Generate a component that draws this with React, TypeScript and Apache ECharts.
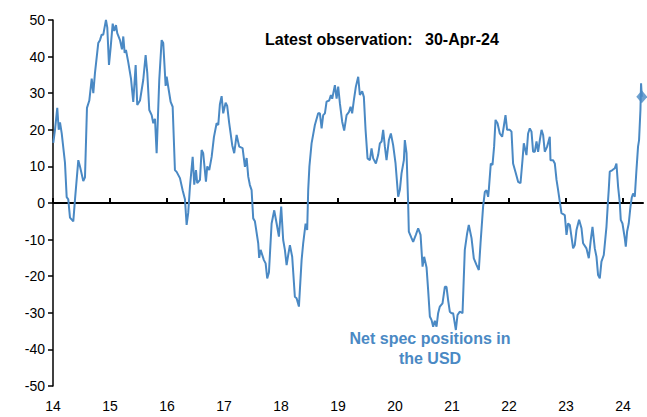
import React, { useEffect, useRef } from "react";
import * as echarts from "echarts";

const dates = [
  2014.005, 2014.035, 2014.075, 2014.1, 2014.123, 2014.153, 2014.21, 2014.24, 2014.268, 2014.298,
  2014.356, 2014.386, 2014.444, 2014.473, 2014.531, 2014.561, 2014.596, 2014.637, 2014.679, 2014.707,
  2014.736, 2014.794, 2014.824, 2014.854, 2014.882, 2014.929, 2014.952, 2014.982, 2015.012, 2015.047,
  2015.075, 2015.105, 2015.127, 2015.175, 2015.21, 2015.233, 2015.257, 2015.28, 2015.32, 2015.368,
  2015.408, 2015.45, 2015.478, 2015.526, 2015.583, 2015.625, 2015.654, 2015.689, 2015.731, 2015.759,
  2015.789, 2015.818, 2015.864, 2015.906, 2015.934, 2015.976, 2015.994, 2016.022, 2016.064, 2016.099,
  2016.139, 2016.169, 2016.227, 2016.274, 2016.315, 2016.344, 2016.372, 2016.402, 2016.45, 2016.478,
  2016.508, 2016.53, 2016.578, 2016.607, 2016.635, 2016.683, 2016.706, 2016.741, 2016.783, 2016.823,
  2016.87, 2016.899, 2016.928, 2016.958, 2016.986, 2017.028, 2017.056, 2017.091, 2017.144, 2017.179,
  2017.221, 2017.267, 2017.326, 2017.367, 2017.397, 2017.425, 2017.454, 2017.484, 2017.512, 2017.542,
  2017.6, 2017.617, 2017.642, 2017.7, 2017.73, 2017.758, 2017.788, 2017.835, 2017.881, 2017.923,
  2017.963, 2018.003, 2018.038, 2018.068, 2018.098, 2018.126, 2018.156, 2018.196, 2018.243, 2018.273,
  2018.314, 2018.361, 2018.389, 2018.431, 2018.459, 2018.477, 2018.498, 2018.536, 2018.594, 2018.652,
  2018.682, 2018.712, 2018.74, 2018.77, 2018.799, 2018.845, 2018.875, 2018.898, 2018.945, 2018.975,
  2019.003, 2019.033, 2019.073, 2019.108, 2019.15, 2019.19, 2019.22, 2019.248, 2019.278, 2019.313,
  2019.354, 2019.383, 2019.424, 2019.453, 2019.483, 2019.518, 2019.559, 2019.588, 2019.617, 2019.664,
  2019.704, 2019.734, 2019.764, 2019.792, 2019.822, 2019.851, 2019.892, 2019.927, 2019.967, 2020.009,
  2020.055, 2020.085, 2020.114, 2020.155, 2020.172, 2020.202, 2020.23, 2020.242, 2020.29, 2020.318,
  2020.365, 2020.406, 2020.448, 2020.483, 2020.511, 2020.553, 2020.581, 2020.611, 2020.641, 2020.669,
  2020.698, 2020.728, 2020.756, 2020.786, 2020.833, 2020.874, 2020.903, 2020.931, 2020.961, 2020.991,
  2021.019, 2021.067, 2021.096, 2021.137, 2021.184, 2021.224, 2021.265, 2021.294, 2021.342, 2021.382,
  2021.429, 2021.47, 2021.5, 2021.545, 2021.575, 2021.605, 2021.633, 2021.645, 2021.68, 2021.71,
  2021.738, 2021.763, 2021.798, 2021.838, 2021.879, 2021.908, 2021.938, 2021.966, 2022.014, 2022.043,
  2022.071, 2022.119, 2022.159, 2022.201, 2022.236, 2022.259, 2022.306, 2022.334, 2022.364, 2022.394,
  2022.422, 2022.452, 2022.482, 2022.51, 2022.54, 2022.57, 2022.598, 2022.627, 2022.668, 2022.715,
  2022.727, 2022.773, 2022.803, 2022.833, 2022.861, 2022.891, 2022.92, 2022.978, 2023.008, 2023.036,
  2023.066, 2023.124, 2023.153, 2023.183, 2023.229, 2023.271, 2023.299, 2023.358, 2023.399, 2023.434,
  2023.464, 2023.504, 2023.534, 2023.562, 2023.592, 2023.621, 2023.662, 2023.709, 2023.737, 2023.749,
  2023.767, 2023.814, 2023.855, 2023.884, 2023.913, 2023.943, 2023.96, 2023.99, 2024.03, 2024.048,
  2024.071, 2024.1, 2024.13, 2024.153, 2024.176, 2024.206, 2024.235, 2024.263, 2024.281, 2024.305,
  2024.316, 2024.329,
];

// net speculative positions in the USD (USD bn, approximate)
const netSpec = [
  16.4, 20, 26, 20, 22, 19, 11, 1.6, 1, -4,
  -5, 1, 11.7, 10, 6, 7, 26, 28, 34, 30,
  35.5, 43.7, 44.5, 46, 46, 50, 48, 37.7, 42.6, 49,
  47, 48.6, 46.4, 44.5, 42, 45.5, 41, 41.8, 38.5, 34,
  27.6, 37.7, 26.8, 28, 33.6, 40.4, 35.5, 25.4, 24, 21.8,
  23, 13.6, 33.6, 44.5, 43.7, 32, 34.5, 31.7, 27.6, 26.3,
  9, 8.5, 6.8, 3.5, 1, -6, -2.7, 4.4, 12.6, 5,
  9, 5.4, 6.3, 14.5, 13.6, 5.8, 10, 9, 12.6, 18,
  21.8, 21.3, 27, 29.2, 24.5, 27.4, 26.5, 21.8, 15.8, 13.6,
  18.6, 15.4, 15, 9.9, 12.3, 7.2, 4.9, 3.5, -4.2, -5,
  -11, -15, -12.8, -15.6, -16.5, -20.6, -19, -5.6, -2, -5.6,
  -9.2, -1, -10.1, -12.8, -17, -14.2, -11.5, -14.7, -25.6, -26,
  -28.3, -15.6, -11, -5.6, -7.4, 3.6, 10, 16.3, 21.3, 24.5,
  24.5, 20.4, 24, 24.5, 27.7, 28, 29.5, 28.5, 32.2, 28.5,
  31.8, 27.2, 22.2, 19.8, 24, 24.8, 26.3, 24.5, 28.1, 31.8,
  34.5, 29.5, 30.5, 29, 20, 12.2, 11.7, 14.9, 12.2, 10.8,
  13.1, 16.3, 16.8, 20, 15.4, 11.7, 17.2, 19, 15.8, 10.8,
  1.7, 3.6, 8.1, 11.7, 17.2, 13.6, 0, -7.8, -9.6, -10.6,
  -8.7, -6.9, -8.7, -17.4, -14.7, -17.6, -23.8, -31, -32, -33.8,
  -32.2, -33.8, -30.1, -28.3, -27.4, -22.9, -22.9, -26.5, -29.7, -30.1,
  -30.1, -34.7, -30.6, -29.7, -30.1, -12.8, -8.3, -6, -9.6, -15.1,
  -16.9, -18.3, -11, -1, 3, 3.5, 1.7, 3.5, 10.8, 10.4,
  15.4, 22.7, 21.8, 19, 18.1, 20.9, 24, 20, 20, 19.5,
  10.8, 8.1, 5.8, 5.4, 11.7, 16.3, 13.1, 19, 20.4, 19.5,
  14, 14, 16.8, 14, 17.2, 20, 18.6, 14, 15.4, 18.1,
  11.7, 11.7, 10.8, 6.3, 3.5, 0.3, -2.8, -3.3, -8.7, -5.6,
  -6, -12.4, -11.5, -7.4, -4.6, -6.9, -11, -12.4, -15.1, -10.1,
  -6.5, -12.4, -14.7, -19.7, -20.6, -16, -14.2, -6.5, 0.8, 3.6,
  8.6, 9, 9.5, 10.8, 4.5, 0, -4.6, -5.6, -9.6, -11.9,
  -7.8, -5.6, -1, 1.5, 2.6, 1.7, 9, 15.4, 17.2, 25.4,
  32.7, 29,
];

const yearTicks = [2014, 2015, 2016, 2017, 2018, 2019, 2020, 2021, 2022, 2023, 2024];
const xMin = 2014;
const xMax = 2024.35;
const yMin = -50;
const yMax = 50;
const yStep = 10;
const titleLabel = "Latest observation:";
const latestLabel = "30-Apr-24";
const seriesLabel = "Net spec positions in\nthe USD";

const LINE_BLUE = "#4a89c4";
const FONT = "Liberation Sans, Arial, sans-serif";

export default function App() {
  const ref = useRef<HTMLDivElement>(null);

  useEffect(() => {
    document.body.style.margin = "0";
    const chart = echarts.init(ref.current as HTMLDivElement, null, { renderer: "svg" });
    const points = dates.map((d, i) => [d, netSpec[i]]);
    const last = points[points.length - 1];

    chart.setOption({
      animation: false,
      backgroundColor: "#ffffff",
      textStyle: { fontFamily: FONT },
      grid: {
        left: 53,
        right: 4,
        top: 20,
        bottom: 31,
        containLabel: false,
        outerBoundsMode: "none",
      },
      xAxis: [
        {
          type: "value",
          min: xMin,
          max: xMax,
          position: "bottom",
          axisLine: { show: true, onZero: true, lineStyle: { color: "#000", width: 2 } },
          axisTick: {
            show: true,
            inside: true,
            length: 5,
            customValues: yearTicks,
            lineStyle: { color: "#000", width: 2 },
          },
          axisLabel: { show: false },
          splitLine: { show: false },
        },
        {
          type: "value",
          min: xMin,
          max: xMax,
          position: "bottom",
          axisLine: { show: false, onZero: false },
          axisTick: { show: false },
          axisLabel: {
            show: true,
            customValues: yearTicks,
            formatter: (v: number) => String(Math.round(v) % 100),
            color: "#000",
            fontSize: 14,
            fontFamily: FONT,
            margin: 13,
          },
          splitLine: { show: false },
        },
      ],
      yAxis: {
        type: "value",
        min: yMin,
        max: yMax,
        interval: yStep,
        axisLine: { show: true, lineStyle: { color: "#000", width: 1.5 } },
        axisTick: { show: true, length: 5, lineStyle: { color: "#000", width: 1.5 } },
        axisLabel: { color: "#000", fontSize: 14, fontFamily: FONT, margin: 8 },
        splitLine: { show: false },
      },
      series: [
        {
          type: "line",
          xAxisIndex: 0,
          data: points,
          showSymbol: false,
          symbol: "none",
          lineStyle: { color: LINE_BLUE, width: 2 },
          z: 3,
        },
        {
          type: "scatter",
          xAxisIndex: 0,
          data: [last],
          symbol: "diamond",
          symbolSize: [11, 13],
          itemStyle: { color: LINE_BLUE },
          clip: false,
          z: 4,
        },
      ],
      graphic: [
        {
          type: "text",
          left: 265,
          top: 31,
          style: {
            text: titleLabel,
            font: `bold 16px ${FONT}`,
            fill: "#000",
          },
        },
        {
          type: "text",
          left: 425,
          top: 31,
          style: {
            text: latestLabel,
            font: `bold 16px ${FONT}`,
            fill: "#000",
          },
        },
        {
          type: "text",
          x: 430,
          y: 328,
          style: {
            text: seriesLabel,
            font: `bold 16px ${FONT}`,
            fill: LINE_BLUE,
            align: "center",
            verticalAlign: "top",
            lineHeight: 20,
          },
        },
      ],
    });

    return () => chart.dispose();
  }, []);

  return <div ref={ref} style={{ width: 647, height: 417 }} />;
}
